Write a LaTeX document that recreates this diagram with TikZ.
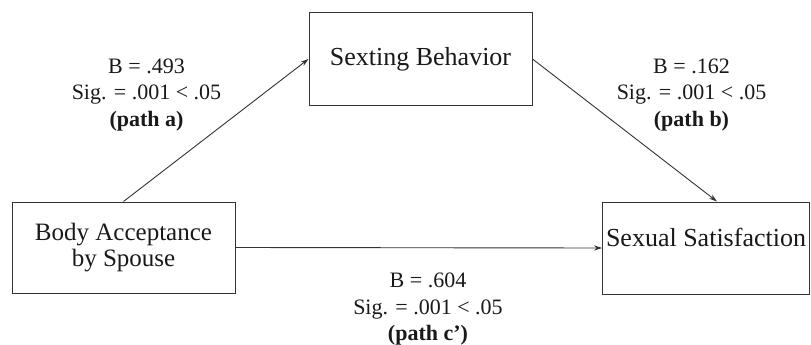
\documentclass[tikz,border=0pt]{standalone}
\usepackage{fontspec}
\setmainfont{Liberation Serif}
\usepackage{xcolor}
\usetikzlibrary{arrows.meta}

\begin{document}
\begin{tikzpicture}[x=1pt,y=-1pt]
                \useasboundingbox (0,0) rectangle (811,345);
                \begin{scope}[every node/.style = {rectangle, draw=black!80, line width=1pt,
                                text=black!90, align=center, font=\fontsize{26}{26}\selectfont}]
                    \node[minimum width=223pt, minimum height=92pt] (sexting) at (420.5, 59)   {Sexting Behavior};
                    \node[minimum width=223pt, minimum height=91pt,
                          font=\fontsize{25}{26}\selectfont]          (body)    at (123.5, 247.5) {Body Acceptance\\by Spouse};
                    \node[minimum width=206pt, minimum height=92pt,
                          text height=17pt, text depth=21pt]         (satis)   at (706, 248)     {Sexual Satisfaction};
                \end{scope}

                \begin{scope}[>={Stealth[length=8pt,width=5pt]},
                                every node/.style={align=center, text=black!90,
                                    font=\fontsize{22}{26.5}\selectfont},
                                every edge/.style={draw=black!80, line width=0.9pt}]
                     \path [->] (body.north) edge (sexting.west);
                     \path [->] (sexting.east) edge ([xshift=11pt]satis.north);
                     \path [->] (body.east) edge (satis.west);
                     \node (labA) at (146.5, 95)  {B = .493\\Sig. = .001 < .05\\\textbf{(path a)}};
                     \node (labB) at (691.5, 95)  {B = .162\\Sig. = .001 < .05\\\textbf{(path b)}};
                     \node (labC) at (428, 309.5) {B = .604\\Sig. = .001 < .05\\\textbf{(path c')}};
                \end{scope}
            \end{tikzpicture}
\end{document}
